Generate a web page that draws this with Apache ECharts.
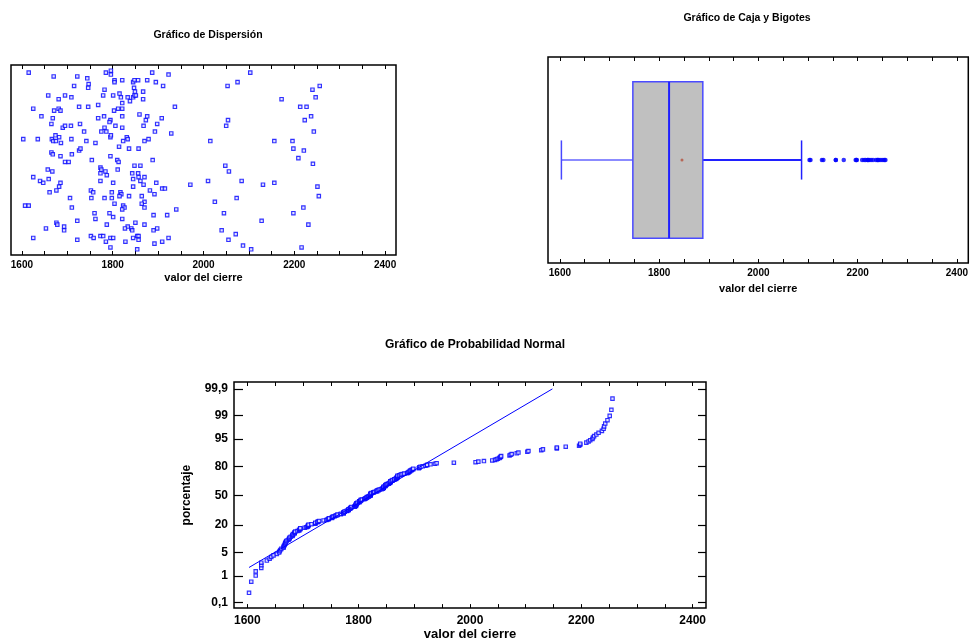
<!DOCTYPE html>
<html><head><meta charset="utf-8">
<script src="https://cdn.jsdelivr.net/npm/echarts@6/dist/echarts.min.js"></script>
<style>html,body{margin:0;padding:0;background:#fff}#c{width:971px;height:642px}</style>
</head><body><div id="c"></div>
<script>
// ---- data ----
// closing values (x) of every observation, and the vertical jitter used in the dispersion plot
const closeValues = [
 1615,1670,1722,1744,1785,1796,1796,1887,1923,1804,1804,1821,1845,1848,1856,1876,1895,1911,1715,1747,
 1746,1782,1847,1849,1867,1815,1801,1658,1695,1681,1709,1779,1818,1833,1838,1845,1848,1851,1867,1821,
 1768,1726,1746,1937,1625,1671,1681,1685,1803,1812,1821,1859,1821,1643,1668,1768,1781,1795,1793,1873,
 1876,1908,1665,1690,1695,1708,1728,1806,1821,1868,1898,1782,1737,1775,1786,1893,1929,1674,1682,1666,
 1669,1675,1686,1709,1742,1762,1795,1796,1831,1833,1823,1870,1879,1603,1635,1814,1836,1857,1665,1668,
 1685,1710,1726,1729,1695,1703,1754,1795,1810,1813,1848,1861,1888,1657,1667,1773,1775,1784,1787,1773,
 1811,1843,1856,1857,1870,1625,1640,1647,1659,1685,1682,1773,1801,1845,1861,1868,1896,1971,1661,1676,
 1752,1757,1798,1817,1819,1815,1836,1845,1882,1892,1909,1915,1706,1753,1782,1798,1864,1870,1804,1607,
 1615,1710,1823,1826,1821,1864,1870,1940,1760,1762,1793,1801,1821,1890,1920,1676,1678,1722,1787,1693,
 1653,1693,1833,1841,1843,1850,1870,1827,1890,1898,1625,1722,1752,1758,1773,1779,1795,1801,1828,1845,
 1854,1857,1857,1892,1909,1923,1785,1795,1854,
 2103,2075,2053,2256,2240,2247,2172,2213,2227,2237,2054,2223,2050,2243,2015,2156,2196,2198,2221,2209,
 2241,2048,2056,2010,2084,2131,2156,2251,2254,2073,2025,2220,2045,2198,2128,2231,2040,2071,2055,2087,
 2105,2216
];
const jitter = [
 96,94,94,93,96,97,95,96,95,92,91,92,91,92,92,92,91,89,89,90,
 88,87,88,86,86,85,84,84,84,82,83,84,83,83,81,83,84,84,82,80,
 79,78,78,78,77,76,77,76,76,77,77,74,73,73,72,72,73,71,70,71,
 73,72,69,67,68,68,69,68,67,68,69,67,65,65,65,65,64,63,62,61,
 60,60,59,61,60,59,62,63,62,61,60,60,61,61,61,57,56,56,54,53,
 52,53,55,56,49,49,50,52,50,49,47,47,50,45,44,46,45,44,42,43,
 45,43,43,41,41,41,39,38,40,38,36,39,38,40,39,37,38,37,33,34,
 34,33,33,33,32,31,31,36,34,32,35,35,30,30,30,30,31,28,27,26,
 26,25,26,25,24,27,25,24,22,19,22,20,19,21,21,17,16,18,16,15,
 14,13,15,14,13,17,16,14,13,14,9,8,10,9,10,10,9,9,7,9,
 10,10,8,6,7,9,7,4,3,
 96,91,89,89,87,83,82,78,78,73,71,71,68,65,60,60,60,56,55,51,
 48,47,44,39,39,37,38,36,31,30,28,25,22,22,18,16,13,11,8,5,
 3,4
];
// box-and-whisker statistics: [lower whisker, Q1, median, Q3, upper whisker]
const boxStats = [1603, 1747, 1820, 1888, 2087];
const meanValue = [1846];
// axis tick positions and labels
const xTickValues = [1600,1650,1700,1750,1800,1850,1900,1950,2000,2050,2100,2150,2200,2250,2300,2350,2400];
const xLabelValues = [1600,1800,2000,2200,2400];
const probPercents = [0.1,1,5,20,50,80,95,99,99.9];
const probLabels = ['0,1','1','5','20','50','80','95','99','99,9'];
// reference line of the probability plot (end points)
const fitLineX = [1603, 2148];
const fitLineP = [1.9, 99.9];

// ---- inverse standard normal (probability scale) ----
function normInv(p){
 const a=[-3.969683028665376e+01,2.209460984245205e+02,-2.759285104469687e+02,1.383577518672690e+02,-3.066479806614716e+01,2.506628277459239e+00];
 const b=[-5.447609879822406e+01,1.615858368580409e+02,-1.556989798598866e+02,6.680131188771972e+01,-1.328068155288572e+01];
 const c=[-7.784894002430293e-03,-3.223964580411365e-01,-2.400758277161838e+00,-2.549732539343734e+00,4.374664141464968e+00,2.938163982698783e+00];
 const d=[7.784695709041462e-03,3.224671290700398e-01,2.445134137142996e+00,3.754408661907416e+00];
 const pl=0.02425; let q,r;
 if(p<pl){q=Math.sqrt(-2*Math.log(p));return (((((c[0]*q+c[1])*q+c[2])*q+c[3])*q+c[4])*q+c[5])/((((d[0]*q+d[1])*q+d[2])*q+d[3])*q+1);}
 if(p>1-pl){q=Math.sqrt(-2*Math.log(1-p));return -(((((c[0]*q+c[1])*q+c[2])*q+c[3])*q+c[4])*q+c[5])/((((d[0]*q+d[1])*q+d[2])*q+d[3])*q+1);}
 q=p-0.5;r=q*q;return (((((a[0]*r+a[1])*r+a[2])*r+a[3])*r+a[4])*r+a[5])*q/(((((b[0]*r+b[1])*r+b[2])*r+b[3])*r+b[4])*r+1);
}

const FONT = 'Liberation Sans, Arial, Helvetica, sans-serif';
const BLUE = '#0000ff';
const scatterData = closeValues.map((v,i)=>[v, jitter[i]]);
const outliers = closeValues.filter(v => v > boxStats[4]).map(v => [v, 0]);
const sorted = closeValues.slice().sort((a,b)=>a-b);
const n = sorted.length;
const probData = sorted.map((v,i)=>[v, normInv((i+1-0.375)/(n+0.25))]);
const probZ = probPercents.map(p=>normInv(p/100));
const fitData = fitLineX.map((x,i)=>[x, normInv(fitLineP[i]/100)]);

function xAxisPair(grid, fs, margin, nameGap){
 const common = {type:'value', gridIndex:grid, min:1576, max:2424,
   axisLine:{show:false, onZero:false}, splitLine:{show:false},
   axisTick:{show:true, inside:true, length:4, customValues:xTickValues, lineStyle:{color:'#000', width:1}}};
 return [
  Object.assign({}, common, {position:'bottom', name:'valor del cierre', nameLocation:'middle', nameGap:nameGap,
    nameTextStyle:{fontFamily:FONT, fontWeight:'bold', fontSize:fs+1, color:'#000'},
    axisLabel:{show:true, customValues:xLabelValues, formatter:v=>String(v), margin:margin, fontFamily:FONT, fontWeight:'bold', fontSize:fs, color:'#000'}}),
  Object.assign({}, common, {position:'top', axisLabel:{show:false}})
 ];
}
const grids = [
 {left:11, top:65, width:385, height:190},
 {left:548, top:57, width:424, height:206},
 {left:234, top:382, width:472, height:227}
].map(g=>Object.assign(g,{show:true, borderColor:'#000', borderWidth:1.5, backgroundColor:'transparent'}));

const xAxes = [].concat(xAxisPair(0,10,5,17), xAxisPair(1,10,5,20), xAxisPair(2,12,7,19));
xAxes[2].max = 2423; xAxes[3].max = 2423;

const probFmt = v => { let bi=0; probZ.forEach((z,i)=>{ if(Math.abs(z-v)<Math.abs(probZ[bi]-v)) bi=i; }); return probLabels[bi]; };
const yAxes = [
 {type:'value', gridIndex:0, min:0, max:100, show:false},
 {type:'value', gridIndex:1, min:-1, max:1, show:false},
 {type:'value', gridIndex:2, min:-3.25, max:3.29, position:'left', axisLine:{show:false, onZero:false}, splitLine:{show:false},
  name:'porcentaje', nameLocation:'middle', nameGap:41, nameRotate:90,
  nameTextStyle:{fontFamily:FONT, fontWeight:'bold', fontSize:12, color:'#000'},
  axisTick:{show:true, inside:true, length:9, customValues:probZ, lineStyle:{color:'#000', width:1.2}},
  axisLabel:{show:true, customValues:probZ, formatter:probFmt, margin:6, fontFamily:FONT, fontWeight:'bold', fontSize:12, color:'#000'}},
 {type:'value', gridIndex:2, min:-3.25, max:3.29, position:'right', axisLine:{show:false, onZero:false}, splitLine:{show:false},
  axisTick:{show:true, inside:true, length:8, customValues:probZ, lineStyle:{color:'#000', width:1.2}},
  axisLabel:{show:false}}
];

const BOX_HALF = 0.76, CAP_HALF = 0.19;
const option = {
 animation:false,
 backgroundColor:'#fff',
 title:[
  {text:'Gráfico de Dispersión', left:203, top:25, textAlign:'center', textStyle:{fontFamily:FONT, fontWeight:'bold', fontSize:10.5, color:'#000'}},
  {text:'Gráfico de Caja y Bigotes', left:742, top:8, textAlign:'center', textStyle:{fontFamily:FONT, fontWeight:'bold', fontSize:10.5, color:'#000'}},
  {text:'Gráfico de Probabilidad Normal', left:470, top:334, textAlign:'center', textStyle:{fontFamily:FONT, fontWeight:'bold', fontSize:12, color:'#000'}}
 ],
 grid:grids, xAxis:xAxes, yAxis:yAxes,
 series:[
  {type:'scatter', xAxisIndex:0, yAxisIndex:0, data:scatterData, symbol:'rect', symbolSize:3.4,
   itemStyle:{color:'#dcdcff', borderColor:BLUE, borderWidth:1.15}},
  {type:'custom', xAxisIndex:2, yAxisIndex:1, data:[boxStats], clip:false,
   renderItem:(params, api)=>{
     const lo=api.value(0), q1=api.value(1), med=api.value(2), q3=api.value(3), hi=api.value(4);
     const pLo=api.coord([lo,0]), pQ1=api.coord([q1,BOX_HALF]), pQ3=api.coord([q3,-BOX_HALF]);
     const pMed=api.coord([med,0]), pHi=api.coord([hi,0]);
     const yc=pLo[1], yT=pQ1[1], yB=pQ3[1];
     const capT=api.coord([lo,CAP_HALF])[1], capB=api.coord([lo,-CAP_HALF])[1];
     return {type:'group', children:[
      {type:'line', shape:{x1:pLo[0],y1:yc,x2:pQ1[0],y2:yc}, style:{stroke:'#6464ff', lineWidth:1.5}},
      {type:'line', shape:{x1:pLo[0],y1:capT,x2:pLo[0],y2:capB}, style:{stroke:'#4848ff', lineWidth:1.5}},
      {type:'line', shape:{x1:pQ3[0],y1:yc,x2:pHi[0],y2:yc}, style:{stroke:'#2020ff', lineWidth:2}},
      {type:'line', shape:{x1:pHi[0],y1:capT,x2:pHi[0],y2:capB}, style:{stroke:'#2020ff', lineWidth:1.5}},
      {type:'rect', shape:{x:pQ1[0], y:yT, width:pQ3[0]-pQ1[0], height:yB-yT}, style:{fill:'#c0c0c0', stroke:'#4a4aff', lineWidth:1.5}},
      {type:'line', shape:{x1:pMed[0],y1:yT,x2:pMed[0],y2:yB}, style:{stroke:'#2020ff', lineWidth:2}}
     ]};
   }},
  {type:'scatter', xAxisIndex:2, yAxisIndex:1, data:outliers, symbol:'circle', symbolSize:4.5, itemStyle:{color:BLUE}},
  {type:'scatter', xAxisIndex:2, yAxisIndex:1, data:meanValue.map(v=>[v,0]), symbol:'circle', symbolSize:3, itemStyle:{color:'#b4503c'}},
  {type:'line', xAxisIndex:4, yAxisIndex:2, data:fitData, symbol:'none', lineStyle:{color:BLUE, width:1}},
  {type:'scatter', xAxisIndex:4, yAxisIndex:2, data:probData, symbol:'rect', symbolSize:3.4,
   itemStyle:{color:'#dcdcff', borderColor:BLUE, borderWidth:1.15}}
 ]
};
const chart = echarts.init(document.getElementById('c'), null, {renderer:'canvas'});
chart.setOption(option);
</script></body></html>
